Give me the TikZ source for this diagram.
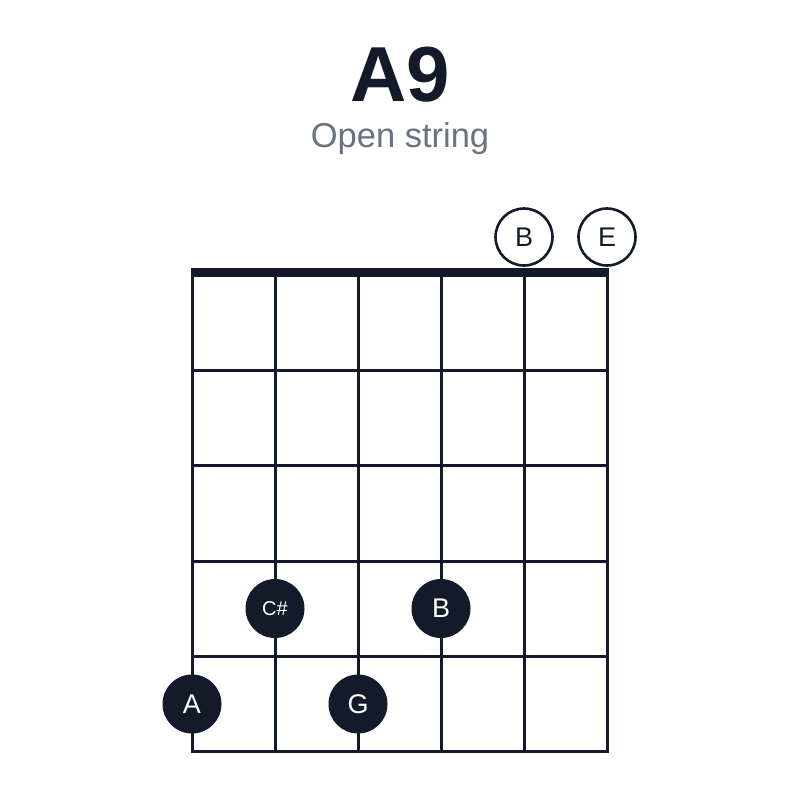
\documentclass[tikz,border=0pt]{standalone}
\usepackage{fontspec}
\setmainfont{Liberation Sans}
\definecolor{ink}{HTML}{131A29}
\definecolor{subgray}{HTML}{6B7280}
\begin{document}
\begin{tikzpicture}[x=1pt,y=-1pt,
  gridline/.style={draw=ink,line width=3pt},
  nutline/.style={draw=ink,line width=9pt},
  fingerdot/.style={circle,fill=ink,minimum size=59pt,inner sep=0pt,text=white,font=\fontsize{27}{27}\selectfont},
  smalldot/.style={fingerdot,font=\fontsize{20}{20}\selectfont},
  opendot/.style={circle,draw=ink,line width=2.6pt,fill=white,minimum size=57pt,inner sep=0pt,text=ink,font=\fontsize{27}{27}\selectfont}]
\useasboundingbox (0,0) rectangle (800,800);
\fill[white] (0,0) rectangle (800,800);
% title
\node[text=ink,font=\fontsize{78}{78}\selectfont\bfseries,anchor=base,inner sep=0pt] (title) at (400,101) {A9};
\node[text=subgray,font=\fontsize{34.5}{34.5}\selectfont,anchor=base,inner sep=0pt] (subtitle) at (400,147.5) {Open string};
% strings
\foreach \i/\x in {1/192,2/275,3/358,4/441,5/524,6/607}{
  \draw[gridline] (\x,272) -- (\x,751.5);
}
% frets
\foreach \y in {370,465.5,561,656.5,751}{
  \draw[gridline,line cap=rect] (192,\y) -- (607,\y);
}
% nut
\draw[nutline] (190.5,272) -- (608.5,272);
% open strings
\node[opendot] (openB) at (524,237) {B};
\node[opendot] (openE) at (607,237) {E};
% fingered notes
\node[smalldot] (cs) at (275,608.5) {C\#};
\node[fingerdot] (b4) at (441,608.5) {B};
\node[fingerdot] (a5) at (192,704) {A};
\node[fingerdot] (g5) at (358,704) {G};
\end{tikzpicture}
\end{document}
